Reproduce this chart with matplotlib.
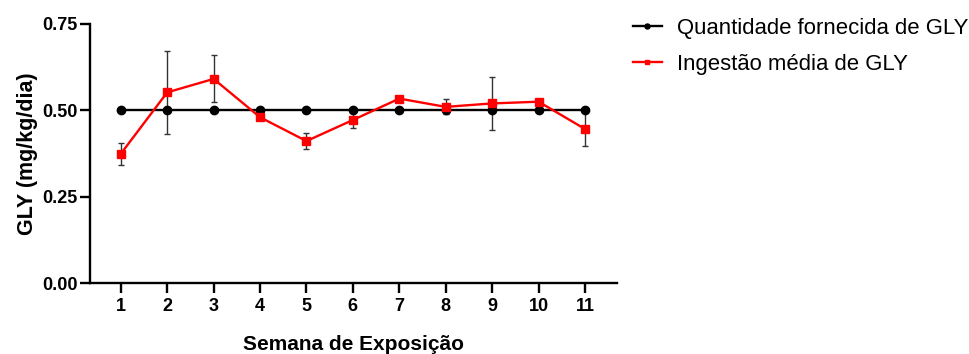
import numpy as np
import matplotlib.pyplot as plt

plt.rcParams['font.family'] = ['Liberation Sans', 'DejaVu Sans']

# semanas de exposicao
semanas = [1, 2, 3, 4, 5, 6, 7, 8, 9, 10, 11]
# quantidade fornecida (mg/kg/dia)
fornecida = [0.50, 0.50, 0.50, 0.50, 0.50, 0.50, 0.50, 0.50, 0.50, 0.50, 0.50]
# ingestao media e erro
ingestao = [0.374, 0.552, 0.591, 0.480, 0.411, 0.472, 0.534, 0.510, 0.520, 0.525, 0.446]
erro = [0.031, 0.120, 0.068, 0.008, 0.022, 0.022, 0.008, 0.022, 0.077, 0.008, 0.050]

fig = plt.figure(figsize=(9.7, 3.54), dpi=100)
ax = fig.add_axes([90 / 970, 71 / 354, 527 / 970, 259 / 354])

ax.plot(semanas, fornecida, color='black', marker='o', ms=6, lw=1.7,
        label='Quantidade fornecida de GLY', zorder=3)
ax.errorbar(semanas, ingestao, yerr=erro, fmt='none', ecolor='#333333',
            elinewidth=1.0, capsize=2.5, capthick=1.0, zorder=2)
ax.plot(semanas, ingestao, color='red', marker='s', ms=6, lw=1.7,
        label='Ingestão média de GLY', zorder=4)

ax.set_xlim(0.337, 11.69)
ax.set_ylim(0, 0.75)
ax.set_xticks(semanas)
ax.set_yticks([0, 0.25, 0.5, 0.75])
ax.set_yticklabels(['0.00', '0.25', '0.50', '0.75'])

for s in ['top', 'right']:
    ax.spines[s].set_visible(False)
for s in ['left', 'bottom']:
    ax.spines[s].set_linewidth(1.7)
ax.tick_params(width=1.7, length=7, labelsize=13)
ax.tick_params(axis='y', pad=2)
for lab in ax.get_xticklabels() + ax.get_yticklabels():
    lab.set_fontweight('bold')

ax.set_xlabel('Semana de Exposição', fontsize=15, fontweight='bold', labelpad=15)
ax.set_ylabel('GLY (mg/kg/dia)', fontsize=15.5, fontweight='bold', labelpad=3)

ax.legend(loc='upper left', bbox_to_anchor=(633 / 970, 1 - 18 / 354),
          bbox_transform=fig.transFigure, frameon=False, borderpad=0,
          borderaxespad=0, fontsize=15.9, handlelength=1.3,
          handletextpad=0.7, markerscale=0.6, labelspacing=0.68)

fig.savefig('out.png', dpi=100)
